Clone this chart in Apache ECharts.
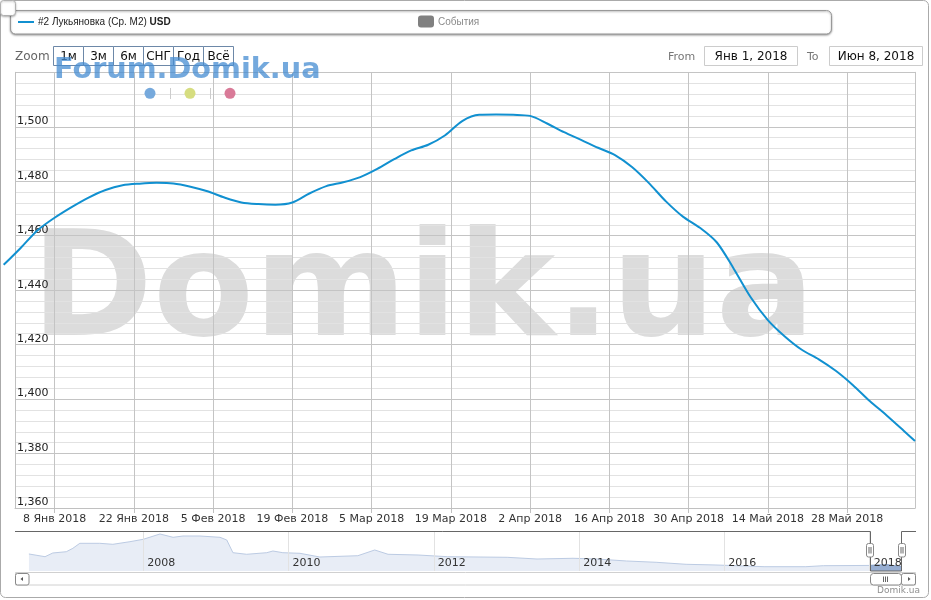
<!DOCTYPE html>
<html>
<head>
<meta charset="utf-8">
<script src="https://cdn.jsdelivr.net/npm/echarts@6/dist/echarts.min.js"></script>
<style>html,body{margin:0;padding:0;background:#fff;}#c{width:931px;height:600px;}</style>
</head>
<body>
<div id="c"></div>
<script>
// ---------- data ----------
const seriesName = '#2 Лукьяновка (Ср. M2) ';
const seriesUnit = 'USD';
const mainDates = ['2017-12-30','2018-01-02','2018-01-05','2018-01-08','2018-01-11','2018-01-14','2018-01-17','2018-01-20','2018-01-23','2018-01-26','2018-01-29','2018-02-01','2018-02-04','2018-02-07','2018-02-10','2018-02-13','2018-02-16','2018-02-19','2018-02-22','2018-02-25','2018-02-28','2018-03-03','2018-03-06','2018-03-09','2018-03-12','2018-03-15','2018-03-18','2018-03-21','2018-03-24','2018-03-27','2018-03-30','2018-04-02','2018-04-05','2018-04-08','2018-04-11','2018-04-14','2018-04-17','2018-04-20','2018-04-23','2018-04-26','2018-04-29','2018-05-02','2018-05-05','2018-05-08','2018-05-11','2018-05-14','2018-05-17','2018-05-20','2018-05-23','2018-05-26','2018-05-29','2018-06-01','2018-06-04','2018-06-07','2018-06-09'];
const mainValues = [1449.3,1455.5,1462.0,1466.6,1470.5,1474.0,1476.8,1478.5,1479.1,1479.4,1479.2,1478.0,1476.3,1474.0,1472.2,1471.6,1471.4,1472.2,1475.5,1478.2,1479.6,1481.5,1484.5,1488.1,1491.3,1493.4,1496.9,1502.1,1504.4,1504.5,1504.4,1504.0,1501.2,1498.0,1495.2,1492.3,1489.6,1485.2,1479.3,1472.6,1467.0,1462.9,1457.5,1447.8,1437.3,1429.0,1423.0,1418.1,1414.6,1410.4,1405.2,1399.3,1394.0,1388.4,1384.6];
const xMinDate = '2018-01-01';
const xMaxDate = '2018-06-09';
const lineStartDate = '2017-12-30';
const xTickDates = ['2018-01-08','2018-01-22','2018-02-05','2018-02-19','2018-03-05','2018-03-19','2018-04-02','2018-04-16','2018-04-30','2018-05-14','2018-05-28'];
const monthsRu = ['Янв','Фев','Мар','Апр','Май','Июн','Июл','Авг','Сен','Окт','Ноя','Дек'];
const yMin = 1360, yMax = 1520, yStep = 20;

const navDates = ['2006-06-05','2006-08-25','2006-10-03','2006-12-10','2007-01-12','2007-02-16','2007-05-27','2007-08-01','2007-10-26','2008-01-01','2008-03-25','2008-05-30','2008-07-19','2008-10-12','2009-01-21','2009-02-24','2009-03-27','2009-06-04','2009-09-13','2009-10-14','2009-12-03','2010-02-27','2010-06-07','2010-12-15','2011-03-10','2011-05-16','2011-10-14','2012-03-10','2013-01-04','2013-06-03','2013-12-01','2014-04-01','2014-08-27','2015-01-23','2015-06-23','2015-11-20','2016-07-19','2017-02-14','2017-05-13','2018-01-01','2018-03-27','2018-06-08'];
const navValues = [2184,2012,2248,2330,2547,2866,2866,2802,2968,3121,3459,3248,3331,3331,3248,3076,2267,2165,2267,2375,2267,2228,1992,2075,2439,2165,2120,2012,1973,1865,1910,1865,1738,1655,1527,1483,1374,1374,1438,1455,1504,1385];
const navMinDate = '2006-03-27';
const navMaxDate = '2018-08-22';
const navYearTicks = ['2008-01-01','2010-01-01','2012-01-01','2014-01-01','2016-01-01','2018-01-01'];
const navSelStart = '2018-01-01';
const zoomButtons = ['1м','3м','6м','СНГ','Год','Всё'];
const fromText = 'Янв 1, 2018';
const toText = 'Июн 8, 2018';

// ---------- helpers ----------
function ts(s){ const p=s.split('-').map(Number); return Date.UTC(p[0],p[1]-1,p[2]); }
function fmtDate(v){ const d=new Date(v); return d.getUTCDate()+' '+monthsRu[d.getUTCMonth()]+' '+d.getUTCFullYear(); }
function fmtNum(v){ return String(v).replace(/\B(?=(\d{3})+(?!\d))/g, ','); }

const lineColor = '#1190d0';
const mainData = mainDates.map((d,i)=>[ts(d), mainValues[i]]);
const navData = navDates.map((d,i)=>[ts(d), navValues[i]]);
const navSelData = navData.filter(p=>p[0]>=ts(navSelStart));
const F = 'DejaVu Sans';

// plot geometry (layout only)
const plotLeft = 15, plotRight = 16, plotTop = 72.3, plotBottom = 92;
const plotW = 931 - plotLeft - plotRight;
const pxPerMs = plotW / (ts(xMaxDate) - ts(xMinDate));
const lineGridLeft = plotLeft - (ts(xMinDate) - ts(lineStartDate)) * pxPerMs;

function txt(x,y,text,size,color,align,extra){
  return Object.assign({type:'text', z:100, silent:true, style:{x:x,y:y,text:text,fill:color,
    font:size+'px "'+F+'"', textAlign:align||'left', align:align||'left', textVerticalAlign:'middle', verticalAlign:'middle'}}, extra||{});
}

const graphics = [];
graphics.push({type:'rect', z:100, silent:true, shape:{x:0.5,y:0.5,width:928,height:597,r:5}, style:{fill:'none',stroke:'#aaaaaa',lineWidth:1}});
graphics.push({type:'rect', z:101, silent:true, shape:{x:0.5,y:0.5,width:15,height:15,r:3}, style:{fill:'#ffffff',stroke:'#b0b0b0',lineWidth:1,shadowColor:'rgba(0,0,0,0.25)',shadowBlur:2,shadowOffsetY:1}});
graphics.push({type:'rect', z:100, silent:true, shape:{x:10.5,y:10.5,width:821,height:23.5,r:5}, style:{fill:'#ffffff',stroke:'#999999',lineWidth:1,shadowColor:'rgba(0,0,0,0.35)',shadowBlur:2,shadowOffsetY:1}});
graphics.push({type:'line', z:101, silent:true, shape:{x1:18,y1:22,x2:34,y2:22}, style:{stroke:lineColor,lineWidth:2}});
graphics.push({type:'text', z:101, silent:true, style:{x:38,y:22.5,textVerticalAlign:'middle',verticalAlign:'middle',
  text:'{a|'+seriesName+'}{b|'+seriesUnit+'}',
  rich:{a:{fontFamily:'Liberation Sans',fontSize:10,fill:'#222',color:'#222'},b:{fontFamily:'Liberation Sans',fontSize:10,fontWeight:'bold',fill:'#222',color:'#222'}}}});
graphics.push({type:'rect', z:101, silent:true, shape:{x:418,y:15.5,width:16,height:12,r:3}, style:{fill:'#808080'}});
graphics.push({type:'text', z:101, silent:true, style:{x:438,y:22.5,text:'События',fill:'#8a8a8a',font:'10px "Liberation Sans"',textVerticalAlign:'middle',verticalAlign:'middle'}});
graphics.push(txt(15,57.3,'Zoom',12,'#666666'));
zoomButtons.forEach((b,i)=>{
  graphics.push({type:'rect', z:100, silent:true, shape:{x:53.5+i*30,y:46.5,width:30,height:19}, style:{fill:'#ffffff',stroke:'#6d88a8',lineWidth:1}});
  graphics.push(txt(68.5+i*30,56.8,b,12,'#111111','center'));
});
graphics.push(txt(668,57,'From',11,'#777777'));
graphics.push({type:'rect', z:100, silent:true, shape:{x:704.5,y:46.5,width:93,height:19}, style:{fill:'#ffffff',stroke:'#cccccc',lineWidth:1}});
graphics.push(txt(751,56.8,fromText,12,'#111111','center'));
graphics.push(txt(807,57,'To',11,'#777777'));
graphics.push({type:'rect', z:100, silent:true, shape:{x:829.5,y:46.5,width:93,height:19}, style:{fill:'#ffffff',stroke:'#cccccc',lineWidth:1}});
graphics.push(txt(876,56.8,toText,12,'#111111','center'));
graphics.push({type:'text', z:120, silent:true, style:{x:54,y:70.7,text:'Forum.Domik.ua',fill:'rgba(70,140,210,0.75)',font:'bold 28.7px "DejaVu Sans"',textVerticalAlign:'middle',verticalAlign:'middle'}});
[['#76a9dc',150],['#d6dd80',190],['#d97a98',230]].forEach(c=>{
  graphics.push({type:'circle', z:100, silent:true, shape:{cx:c[1],cy:93.3,r:5.5}, style:{fill:c[0]}});
});
[170.5,210.5].forEach(x=>graphics.push({type:'line', z:100, silent:true, shape:{x1:x,y1:88,x2:x,y2:99}, style:{stroke:'#cccccc',lineWidth:1}}));
graphics.push({type:'text', z:-1, silent:true, style:{x:31,y:297,text:'Domik.ua',fill:'#dcdcdc',font:'bold 147px "DejaVu Sans"',textVerticalAlign:'middle',verticalAlign:'middle'}});
graphics.push({type:'polyline', z:100, silent:true, shape:{points:[[15,531.5],[870.5,531.5],[870.5,571],[901.5,571],[901.5,531.5],[916,531.5]]}, style:{stroke:'#666666',lineWidth:1,fill:'none'}});
[870,902].forEach(cx=>{
  graphics.push({type:'rect', z:102, silent:true, shape:{x:cx-3.5,y:543.5,width:7,height:13.5,r:2}, style:{fill:'#ffffff',stroke:'#888888',lineWidth:1}});
  graphics.push({type:'line', z:103, silent:true, shape:{x1:cx-1,y1:547,x2:cx-1,y2:553.5}, style:{stroke:'#666',lineWidth:1}});
  graphics.push({type:'line', z:103, silent:true, shape:{x1:cx+1,y1:547,x2:cx+1,y2:553.5}, style:{stroke:'#666',lineWidth:1}});
});
graphics.push({type:'rect', z:100, silent:true, shape:{x:15.5,y:572.5,width:900,height:12.5}, style:{fill:'#ffffff',stroke:'#d0d0d0',lineWidth:1}});
graphics.push({type:'rect', z:101, silent:true, shape:{x:15.5,y:573.5,width:13.5,height:11.5,r:2}, style:{fill:'#ffffff',stroke:'#888888',lineWidth:1}});
graphics.push({type:'polygon', z:102, silent:true, shape:{points:[[20.5,579],[23,577],[23,581]]}, style:{fill:'#555555'}});
graphics.push({type:'rect', z:101, silent:true, shape:{x:901.5,y:573.5,width:14,height:11.5,r:2}, style:{fill:'#ffffff',stroke:'#888888',lineWidth:1}});
graphics.push({type:'polygon', z:102, silent:true, shape:{points:[[910.5,579],[908,577],[908,581]]}, style:{fill:'#555555'}});
graphics.push({type:'rect', z:101, silent:true, shape:{x:870.5,y:573.5,width:31,height:11.5,r:3}, style:{fill:'#ffffff',stroke:'#888888',lineWidth:1}});
[883.5,885.5,887.5].forEach(x=>graphics.push({type:'line', z:102, silent:true, shape:{x1:x,y1:576.5,x2:x,y2:582}, style:{stroke:'#666666',lineWidth:1}}));
graphics.push({type:'text', z:100, silent:true, style:{x:920,y:591,text:'Domik.ua',fill:'#909090',font:'9px "DejaVu Sans"',textAlign:'right',align:'right',textVerticalAlign:'middle',verticalAlign:'middle'}});

const chart = echarts.init(document.getElementById('c'), null, {renderer:'canvas'});
chart.setOption({
  animation:false,
  backgroundColor:'#ffffff',
  textStyle:{fontFamily:F},
  grid:[
    {left:plotLeft, right:plotRight, top:plotTop, bottom:plotBottom, containLabel:false},
    {left:15, right:15, top:531, height:40, containLabel:false},
    {left:lineGridLeft, right:plotRight, top:plotTop, bottom:plotBottom, containLabel:false}
  ],
  xAxis:[
    {type:'value', gridIndex:0, min:ts(xMinDate), max:ts(xMaxDate),
     axisLine:{show:true, lineStyle:{color:'#c0c0c0'}},
     axisTick:{show:true, length:5, lineStyle:{color:'#c0c0c0'}, customValues:xTickDates.map(ts)},
     axisLabel:{show:true, customValues:xTickDates.map(ts), formatter:fmtDate, color:'#333333', fontSize:11, fontFamily:F, margin:6},
     splitLine:{show:true, lineStyle:{color:'#c4c4c4', width:1}}
    },
    {type:'value', gridIndex:1, min:ts(navMinDate), max:ts(navMaxDate), z:10,
     axisLine:{show:false}, axisTick:{show:false, customValues:navYearTicks.map(ts)},
     axisLabel:{show:true, inside:true, customValues:navYearTicks.map(ts), formatter:v=>String(new Date(v).getUTCFullYear()), color:'#333333', fontSize:11, fontFamily:F, align:'left', margin:2, padding:[0,0,0,4]},
     splitLine:{show:true, lineStyle:{color:'#e2e2e2'}}
    },
    {type:'value', gridIndex:2, min:ts(lineStartDate), max:ts(xMaxDate), show:false, splitLine:{show:false}}
  ],
  yAxis:[
    {type:'value', gridIndex:0, min:yMin, max:yMax, interval:yStep, position:'left',
     axisLine:{show:true, onZero:false, lineStyle:{color:'#c0c0c0'}}, axisTick:{show:false},
     axisLabel:{show:true, inside:true, margin:2, verticalAlign:'bottom', color:'#222222', fontSize:11, fontFamily:F,
       formatter:v=> v>=yMax ? '' : fmtNum(v)},
     splitLine:{show:true, lineStyle:{color:'#c4c4c4'}},
     minorTick:{show:false, splitNumber:5},
     minorSplitLine:{show:true, lineStyle:{color:'#e2e2e2'}}
    },
    {type:'value', gridIndex:0, min:yMin, max:yMax, interval:yStep, position:'right',
     axisLine:{show:true, onZero:false, lineStyle:{color:'#c4c4c4'}}, axisTick:{show:false}, axisLabel:{show:false}, splitLine:{show:false}},
    {type:'value', gridIndex:1, min:1100, max:3650, show:false, splitLine:{show:false}},
    {type:'value', gridIndex:2, min:yMin, max:yMax, show:false, splitLine:{show:false}}
  ],
  series:[
    {type:'line', name:'main', xAxisIndex:2, yAxisIndex:3, data:mainData, smooth:0.3, symbol:'none', z:5,
     lineStyle:{color:lineColor, width:2}},
    {type:'line', name:'nav', xAxisIndex:1, yAxisIndex:2, data:navData, symbol:'none', z:3,
     lineStyle:{color:'#bccbe3', width:1}, areaStyle:{color:'#e8edf6', opacity:1}},
    {type:'line', name:'navSel', xAxisIndex:1, yAxisIndex:2, data:navSelData, symbol:'none', z:4,
     lineStyle:{color:'#8aa3c9', width:1}, areaStyle:{color:'#97aed2', opacity:1}}
  ],
  graphic:graphics
});
</script>
</body>
</html>
